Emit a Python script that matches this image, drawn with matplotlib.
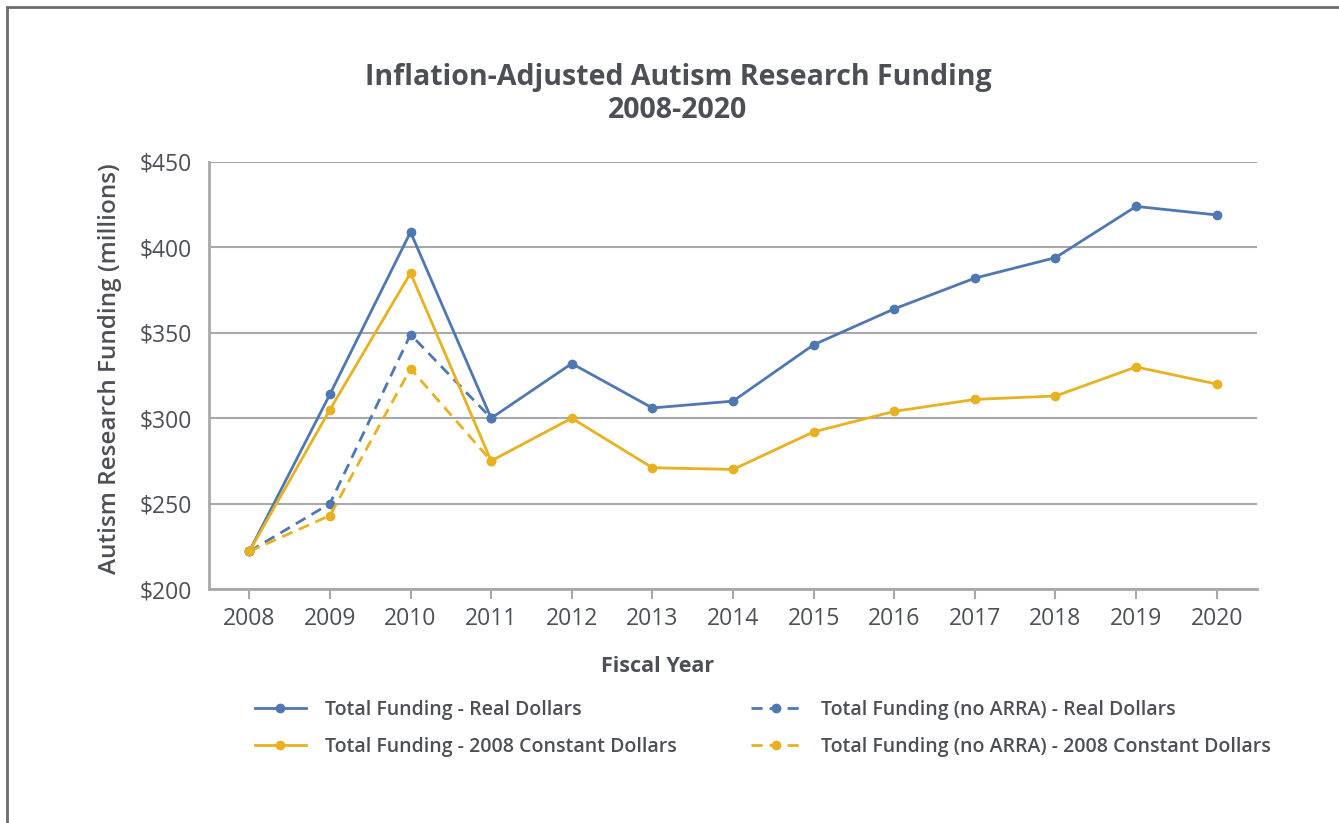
import numpy as np
import matplotlib.pyplot as plt
from matplotlib.patches import Rectangle

# --- dados (milhões de dólares) ---
anos = [2008, 2009, 2010, 2011, 2012, 2013, 2014, 2015, 2016, 2017, 2018, 2019, 2020]
real = [222, 314, 409, 300, 332, 306, 310, 343, 364, 382, 394, 424, 419]
constante = [222, 305, 385, 275, 300, 271, 270, 292, 304, 311, 313, 330, 320]
real_sem_arra = [222, 250, 349, 300]
constante_sem_arra = [222, 243, 329, 275]

azul = '#4f77b1'
ouro = '#e7b121'
texto = '#4d4f56'
cinza = '#a8a8a8'

plt.rcParams['font.family'] = ['Open Sans', 'DejaVu Sans']

fig = plt.figure(figsize=(13.39, 8.23), dpi=100)
ax = fig.add_axes([209/1339, 1 - 589/823, (1257 - 209)/1339, (589 - 162)/823])

x = np.arange(len(anos))
kw = dict(lw=2, marker='o', ms=6)
tracejado = (0, (4, 2.5))
l1, = ax.plot(x, real, color=azul, zorder=4, **kw)
l3, = ax.plot(x[:len(real_sem_arra)], real_sem_arra, color=azul, ls=tracejado, zorder=3, **kw)
l2, = ax.plot(x, constante, color=ouro, zorder=4, **kw)
l4, = ax.plot(x[:len(constante_sem_arra)], constante_sem_arra, color=ouro, ls=tracejado, zorder=3, **kw)

ax.set_xlim(-0.5, len(anos) - 0.5)
ax.set_ylim(200, 450)
ax.set_yticks(range(200, 451, 50))
ax.set_yticklabels([f'${v}' for v in range(200, 451, 50)])
ax.set_xticks(x)
ax.set_xticklabels([str(a) for a in anos])
ax.grid(axis='y', color=cinza, lw=1.5)
ax.set_axisbelow(True)
for s in ['top', 'right']:
    ax.spines[s].set_visible(False)
for s in ['left', 'bottom']:
    ax.spines[s].set_color(cinza)
    ax.spines[s].set_linewidth(2)
ax.tick_params(axis='y', length=0, pad=12, labelsize=16.5, labelcolor=texto)
ax.tick_params(axis='x', length=7, width=1.5, color=cinza, pad=6, labelsize=16.5, labelcolor=texto)

ax.set_ylabel('Autism Research Funding (millions)', fontsize=17.5, fontweight='semibold',
              color=texto)
ax.yaxis.set_label_coords(-0.083, 0.515)
fig.text(658/1339, 1 - 666/823, 'Fiscal Year', ha='center', va='center',
         fontsize=15.5, fontweight='bold', color=texto)

fig.text(678/1339, 1 - 94/823, 'Inflation-Adjusted Autism Research Funding\n2008-2020',
         ha='center', va='center', fontsize=20.5, fontweight='bold', color=texto,
         linespacing=1.2)

leg = fig.legend([l1, l2, l3, l4],
                 ['Total Funding - Real Dollars', 'Total Funding - 2008 Constant Dollars',
                  'Total Funding (no ARRA) - Real Dollars', 'Total Funding (no ARRA) - 2008 Constant Dollars'],
                 ncol=2, loc='upper left', bbox_to_anchor=(255/1339, 1 - 700/823),
                 frameon=False, fontsize=14, handlelength=2.6, handletextpad=1.0,
                 columnspacing=3.8, labelspacing=0.85, borderaxespad=0, borderpad=0)
for t in leg.get_texts():
    t.set_color(texto)
    t.set_fontweight('semibold')

# moldura cortada à direita e embaixo
fig.patches.append(Rectangle((7/1339, -0.1), 1.2, 1 - 7/823 + 0.1, transform=fig.transFigure,
                             fill=False, ec='#6b6b6b', lw=2))

fig.savefig('out.png', dpi=100)
